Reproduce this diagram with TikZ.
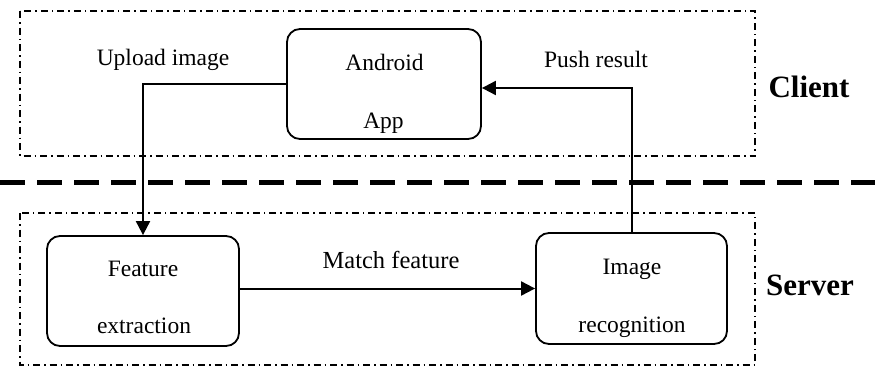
\documentclass[tikz,border=0pt]{standalone}
\usepackage{fontspec}
\setmainfont{Liberation Serif}
\usetikzlibrary{arrows.meta}
\begin{document}
\begin{tikzpicture}[x=1pt,y=-1pt,
  procbox/.style={draw, line width=1.8pt, rounded corners=13pt, inner sep=0pt},
  lbl/.style={anchor=base, inner sep=0pt, font=\fontsize{23.5}{28}\selectfont},
  side/.style={anchor=base, inner sep=0pt, font=\fontsize{31}{36}\selectfont\bfseries},
  region/.style={draw, line width=1.3pt, dash pattern=on 7pt off 4pt on 1.5pt off 4pt},
  flow/.style={line width=2pt, -{Triangle[length=14pt, width=14pt]}},
  split/.style={line width=5pt, dash pattern=on 25pt off 12pt}]
\useasboundingbox (0,0) rectangle (875,367);

% client and server regions
\draw[region] (20,11) rectangle (755,156);
\draw[region] (20,213) rectangle (755,365);

% boundary between client and server
\coordinate (splitL) at (0,182);
\coordinate (splitR) at (875,182);
\draw[split] (splitL) -- (splitR);

% process boxes
\node[procbox, minimum width=194pt, minimum height=110pt] (app) at (384,84) {};
\node[procbox, minimum width=192pt, minimum height=110pt] (feat) at (143,291) {};
\node[procbox, minimum width=191pt, minimum height=111pt] (rec) at (631.5,288.5) {};

% box texts
\node[lbl] (appA) at (384.5,70) {Android};
\node[lbl] (appB) at (383.5,128) {App};
\node[lbl] (featA) at (143,276.5) {Feature};
\node[lbl] (featB) at (144,333) {extraction};
\node[lbl] (recA) at (632,274) {Image};
\node[lbl] (recB) at (632,332.5) {recognition};

% connector labels
\node[lbl] (upl) at (163,65) {Upload image};
\node[lbl] (push) at (596,67) {Push result};
\node[lbl, font=\fontsize{24.5}{29}\selectfont] (match) at (391,268) {Match feature};

% side labels
\node[side] (client) at (809,97) {Client};
\node[side] (server) at (810,295) {Server};

% connectors
\draw[flow] (app.west) -| (feat.north);
\draw[flow] (rec.north) |- ([yshift=-4pt]app.east);
\draw[flow] (feat.east |- rec.west) -- (rec.west);
\end{tikzpicture}
\end{document}
